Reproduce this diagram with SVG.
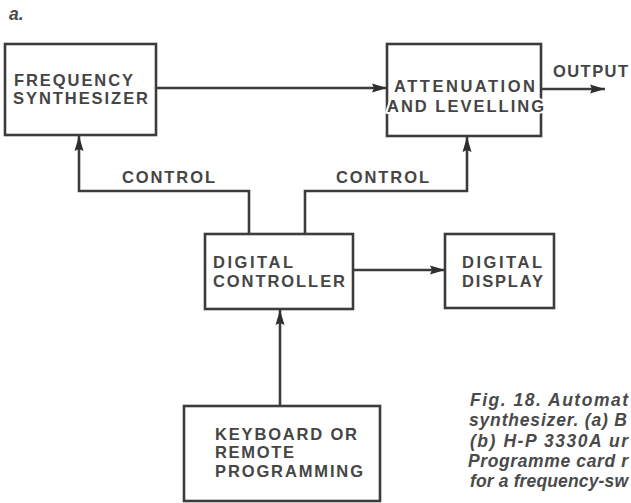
<svg xmlns="http://www.w3.org/2000/svg" width="631" height="503" viewBox="0 0 631 503">
<style>
.box{fill:none;stroke:#3c3c3c;stroke-width:2.6}
.ln{fill:none;stroke:#3c3c3c;stroke-width:2.6}
.t{font-family:"Liberation Sans",Arial,sans-serif;font-weight:bold;font-size:16.5px;fill:#454545}
.ko{stroke:#ffffff;stroke-width:4;paint-order:stroke;stroke-linejoin:round}
.cap{font-family:"Liberation Sans",Arial,sans-serif;font-weight:bold;font-style:italic;font-size:17.5px;fill:#4a4a4a}
</style>
<defs>
<marker id="ah" markerUnits="userSpaceOnUse" markerWidth="16" markerHeight="12" refX="15" refY="5" orient="auto">
<path d="M0,0.5 L15,5 L0,9.5 L2,5 Z" fill="#2e2e2e"/>
</marker>
</defs>
<rect width="631" height="503" fill="#ffffff"/>
<text class="cap" x="9" y="20" font-size="14">a.</text>

<g id="connectors">
<line class="ln" x1="156" y1="88" x2="387" y2="88" marker-end="url(#ah)"/>
<line class="ln" x1="541" y1="89" x2="605" y2="89" marker-end="url(#ah)"/>
<polyline class="ln" points="249,234 249,191 79,191 79,136" marker-end="url(#ah)"/>
<polyline class="ln" points="305,234 305,191 467,191 467,137" marker-end="url(#ah)"/>
<line class="ln" x1="353" y1="270" x2="445" y2="270" marker-end="url(#ah)"/>
<line class="ln" x1="280" y1="406" x2="280" y2="310" marker-end="url(#ah)"/>
<text class="t" x="122" y="183" textLength="93" lengthAdjust="spacing">CONTROL</text>
<text class="t" x="336" y="183" textLength="93" lengthAdjust="spacing">CONTROL</text>
<text class="t" x="553" y="77" textLength="75" lengthAdjust="spacing">OUTPUT</text>
</g>

<g id="freq-synth">
<rect class="box" x="5" y="44" width="151" height="91"/>
<text class="t" x="14" y="86" textLength="119" lengthAdjust="spacing">FREQUENCY</text>
<text class="t" x="13" y="104" textLength="135" lengthAdjust="spacing">SYNTHESIZER</text>
</g>

<g id="attenuation">
<rect class="box" x="387" y="44" width="154" height="92"/>
<text class="t ko" x="394" y="92" textLength="141" lengthAdjust="spacing">ATTENUATION</text>
<text class="t ko" x="387" y="112" textLength="157" lengthAdjust="spacing">AND LEVELLING</text>
</g>

<g id="digital-controller">
<rect class="box" x="205" y="234" width="148" height="75"/>
<text class="t" x="213" y="268" textLength="80" lengthAdjust="spacing">DIGITAL</text>
<text class="t" x="213" y="287" textLength="132" lengthAdjust="spacing">CONTROLLER</text>
</g>

<g id="digital-display">
<rect class="box" x="445" y="234" width="109" height="74"/>
<text class="t" x="462" y="268" textLength="80" lengthAdjust="spacing">DIGITAL</text>
<text class="t" x="462" y="287" textLength="81" lengthAdjust="spacing">DISPLAY</text>
</g>

<g id="keyboard">
<rect class="box" x="184" y="406" width="196" height="95"/>
<text class="t" x="215" y="440" textLength="142" lengthAdjust="spacing">KEYBOARD OR</text>
<text class="t" x="215" y="458" textLength="79" lengthAdjust="spacing">REMOTE</text>
<text class="t" x="215" y="477" textLength="148" lengthAdjust="spacing">PROGRAMMING</text>
</g>

<g id="caption">
<text class="cap" x="470" y="406" textLength="158" lengthAdjust="spacing">Fig. 18. Automat</text>
<text class="cap" x="469" y="426" textLength="158" lengthAdjust="spacing">synthesizer. (a) B</text>
<text class="cap" x="470" y="447" textLength="158" lengthAdjust="spacing">(b) H-P 3330A ur</text>
<text class="cap" x="468" y="467" textLength="160" lengthAdjust="spacing">Programme card r</text>
<text class="cap" x="470" y="487" textLength="158" lengthAdjust="spacing">for a frequency-sw</text>
</g>
</svg>
